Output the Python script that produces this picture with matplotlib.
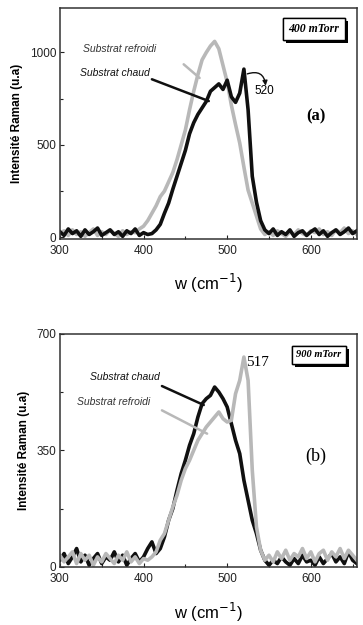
import matplotlib
matplotlib.use('Agg')
import matplotlib.pyplot as plt
import matplotlib.patheffects as pe
import numpy as np

# --------------------------------------------------------------------------- #
# data (step 5 cm-1)                                    #
# --------------------------------------------------------------------------- #
w = np.arange(300, 656, 5)

# (a) 400 mTorr
a_refroidi = [20, 35, 10, 40, 15, 30, 5, 25, 45, 10, 30, 15, 40, 20, 5, 35, 15, 30, 25,
              45, 60, 90, 130, 170, 220, 250, 300, 350, 420, 500, 580, 690, 790, 880, 960,
              1000, 1035, 1060, 1020, 930, 840, 715, 610, 510, 380, 255, 185, 115, 45,
              15, 30, 10, 35, 20, 5, 30, 15, 40, 20, 10, 35, 25, 45, 15, 30, 10, 40, 25,
              50, 20, 35, 15]
a_chaud = [30, 10, 45, 20, 35, 5, 40, 15, 30, 50, 10, 25, 40, 15, 30, 5, 35, 20, 45, 10,
           25, 15, 20, 40, 70, 130, 185, 260, 330, 400, 470, 560, 620, 665, 700, 735, 790,
           810, 830, 800, 850, 760, 730, 780, 910, 690, 330, 190, 90, 40, 20, 45, 10, 30,
           15, 40, 5, 25, 35, 10, 30, 45, 15, 35, 5, 25, 40, 15, 30, 50, 20, 35]

# (b) 900 mTorr
b_chaud = [20, 40, 10, 30, 55, 15, 35, 5, 25, 40, 10, 30, 20, 45, 15, 35, 5, 25, 40, 15,
           30, 55, 75, 40, 55, 90, 140, 175, 230, 280, 320, 365, 400, 450, 490, 505, 515,
           540, 525, 505, 480, 430, 380, 340, 260, 200, 140, 100, 50, 20, 5, 20, 10, 30,
           15, 5, 25, 10, 35, 15, 20, 5, 30, 10, 25, 40, 15, 30, 10, 45, 20, 10]
b_refroidi = [35, 15, 30, 45, 10, 40, 20, 35, 5, 30, 15, 40, 25, 10, 35, 20, 45, 15, 30,
              10, 25, 20, 30, 45, 80, 100, 140, 180, 215, 260, 295, 320, 350, 380, 400,
              420, 435, 450, 465, 445, 435, 440, 520, 560, 630, 560, 290, 120, 50, 20, 35,
              15, 45, 25, 50, 20, 40, 30, 55, 25, 45, 15, 40, 50, 20, 45, 30, 55, 25, 50,
              35, 20]

GREY = '#b8b8b8'
BLACK = '#101010'
LW = 2.6

fig = plt.figure(figsize=(3.63, 6.25), dpi=100)
ax1 = fig.add_axes([0.165, 0.618, 0.818, 0.369])
ax2 = fig.add_axes([0.165, 0.093, 0.818, 0.373])


def style(ax, ymax, ymajor, label, bx, bsize):
    ax.set_xlim(300, 655)
    ax.set_ylim(-8 if ymax > 1000 else 0, ymax)
    ax.set_xticks([300, 400, 500, 600])
    ax.set_xticks([350, 450, 550, 650], minor=True)
    ax.set_yticks(ymajor)
    ax.set_yticks([(ymajor[0] + ymajor[1]) / 2, (ymajor[1] + ymajor[2]) / 2], minor=True)
    ax.tick_params(which='both', direction='in', top=False, right=False, length=3,
                   width=0.8, colors='#222222')
    ax.tick_params(axis='x', pad=4.5)
    ax.tick_params(axis='y', pad=2.5)
    ax.tick_params(which='minor', length=2)
    for lab in ax.get_xticklabels() + ax.get_yticklabels():
        lab.set_fontfamily('Liberation Sans')
        lab.set_fontsize(8.5)
    for s in ax.spines.values():
        s.set_linewidth(1.1)
        s.set_color('#333333')
    ax.set_xlabel('w (cm$^{-1}$)', family='Liberation Sans', size=12, labelpad=11)
    ax.set_ylabel('Intensité Raman (u.a)', family='Liberation Sans', size=8.5,
                  weight='bold', labelpad=5)
    t = ax.text(bx, 0.91, label, transform=ax.transAxes, ha='center', va='center',
                family='Liberation Serif', style='italic', weight='bold', size=bsize,
                bbox=dict(boxstyle='square,pad=0.45', fc='white', ec='black', lw=1))
    t.get_bbox_patch().set_path_effects([
        pe.withSimplePatchShadow(offset=(2.2, -2.2), shadow_rgbFace='black', alpha=1),
        pe.Normal()])


def pointer(ax, start, end, color):
    ax.annotate('', xy=end, xytext=start,
                arrowprops=dict(arrowstyle='-', color=color, lw=1.8,
                                shrinkA=0, shrinkB=0))


# --------------------------------------------------------------------------- #
# (a)                                                                         #
# --------------------------------------------------------------------------- #
ax1.plot(w, a_refroidi, color=GREY, lw=LW)
ax1.plot(w, a_chaud, color=BLACK, lw=LW)
style(ax1, 1240, [0, 500, 1000], '400 mTorr', 0.855, 8.5)

ax1.text(328, 1018, 'Substrat refroidi', style='italic', size=7.5, va='center',
         color='#333333', family='Liberation Sans')
pointer(ax1, (448, 936), (467, 862), GREY)
ax1.text(324, 887, 'Substrat chaud', style='italic', size=7.5, va='center',
         color='#111111', family='Liberation Sans')
pointer(ax1, (410, 855), (478, 737), BLACK)

ax1.annotate('', xy=(546, 820), xytext=(524, 884),
             arrowprops=dict(arrowstyle='-|>', color=BLACK, lw=1.0,
                             connectionstyle='arc3,rad=-0.6', mutation_scale=7,
                             shrinkA=0, shrinkB=0))
ax1.text(533, 793, '520', size=8.5, va='center', family='Liberation Sans')
ax1.text(606, 652, '(a)', size=12, weight='bold', ha='center', va='center',
         family='Liberation Serif')

# --------------------------------------------------------------------------- #
# (b)                                                                         #
# --------------------------------------------------------------------------- #
ax2.plot(w, b_chaud, color=BLACK, lw=LW)
ax2.plot(w, b_refroidi, color=GREY, lw=LW)
style(ax2, 700, [0, 350, 700], '900 mTorr', 0.872, 7.5)

ax2.text(336, 569, 'Substrat chaud', style='italic', size=7.5, va='center',
         color='#111111', family='Liberation Sans')
pointer(ax2, (422, 543), (472, 486), BLACK)
ax2.text(320, 496, 'Substrat refroidi', style='italic', size=7.5, va='center',
         color='#333333', family='Liberation Sans')
pointer(ax2, (422, 470), (476, 400), GREY)
ax2.text(523, 615, '517', size=11, va='center', family='Liberation Serif')
ax2.text(606, 333, '(b)', size=13, ha='center', va='center',
         family='Liberation Serif')

fig.savefig('out.png', dpi=100)
